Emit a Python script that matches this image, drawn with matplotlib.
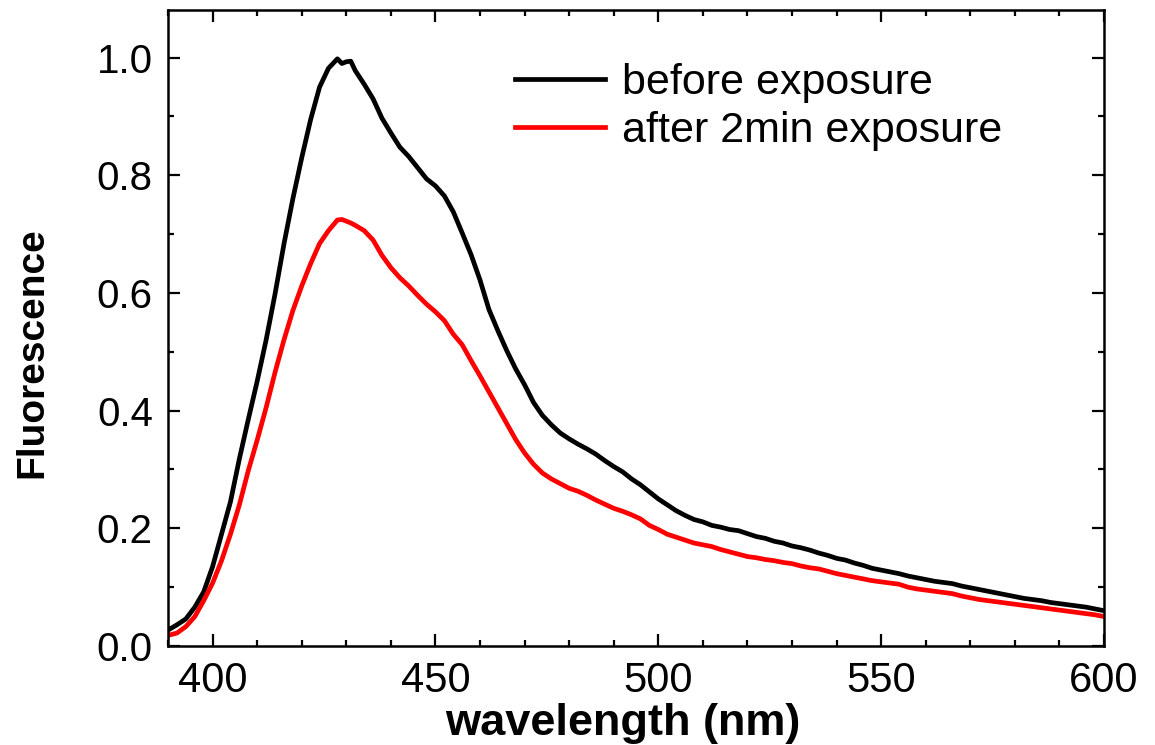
import matplotlib
matplotlib.use("Agg")
import matplotlib.pyplot as plt
from matplotlib.ticker import MultipleLocator

plt.rcParams['font.family'] = ['Liberation Sans', 'DejaVu Sans']

# Emission spectra (wavelength in nm, normalised fluorescence)
wavelength = [390, 392, 394, 396, 398, 400, 402, 404, 406, 408, 410, 412, 414, 416, 418,
              420, 422, 424, 426, 428, 429, 430, 431, 432, 434, 436, 438, 440, 442, 444,
              446, 448, 450, 452, 454, 456, 458, 460, 462, 464, 466, 468, 470, 472, 474,
              476, 478, 480, 482, 484, 486, 488, 490, 492, 494, 496, 498, 500, 502, 504,
              506, 508, 510, 512, 514, 516, 518, 520, 522, 524, 526, 528, 530, 532, 534,
              536, 538, 540, 542, 544, 546, 548, 550, 552, 554, 556, 558, 560, 562, 564,
              566, 568, 570, 572, 574, 576, 578, 580, 582, 584, 586, 588, 590, 592, 594,
              596, 598, 600]

before = [0.027, 0.036, 0.046, 0.066, 0.092, 0.135, 0.190, 0.245, 0.318, 0.385, 0.450,
          0.520, 0.598, 0.683, 0.760, 0.830, 0.895, 0.950, 0.982, 0.998, 0.990, 0.993,
          0.994, 0.978, 0.955, 0.930, 0.897, 0.872, 0.848, 0.832, 0.813, 0.794, 0.782,
          0.765, 0.738, 0.702, 0.665, 0.622, 0.572, 0.536, 0.502, 0.471, 0.444, 0.414,
          0.392, 0.376, 0.362, 0.352, 0.343, 0.335, 0.326, 0.315, 0.305, 0.296, 0.284,
          0.274, 0.262, 0.250, 0.240, 0.230, 0.222, 0.215, 0.211, 0.205, 0.202, 0.198,
          0.196, 0.191, 0.186, 0.183, 0.178, 0.175, 0.170, 0.167, 0.163, 0.158, 0.154,
          0.149, 0.146, 0.141, 0.137, 0.132, 0.129, 0.126, 0.123, 0.119, 0.116, 0.113,
          0.110, 0.108, 0.106, 0.102, 0.099, 0.096, 0.093, 0.090, 0.087, 0.084, 0.081,
          0.079, 0.077, 0.074, 0.072, 0.070, 0.068, 0.066, 0.063, 0.060]

after_2min = [0.018, 0.022, 0.033, 0.050, 0.077, 0.107, 0.145, 0.190, 0.240, 0.298, 0.350,
              0.405, 0.465, 0.520, 0.570, 0.612, 0.650, 0.684, 0.706, 0.724, 0.725, 0.722,
              0.719, 0.715, 0.706, 0.690, 0.664, 0.643, 0.626, 0.612, 0.596, 0.581, 0.568,
              0.553, 0.530, 0.512, 0.485, 0.459, 0.432, 0.405, 0.378, 0.351, 0.328, 0.309,
              0.294, 0.284, 0.276, 0.268, 0.263, 0.256, 0.248, 0.241, 0.234, 0.229, 0.223,
              0.216, 0.205, 0.198, 0.190, 0.185, 0.180, 0.175, 0.172, 0.169, 0.164, 0.160,
              0.156, 0.152, 0.150, 0.147, 0.145, 0.142, 0.140, 0.136, 0.133, 0.131, 0.127,
              0.123, 0.120, 0.117, 0.114, 0.111, 0.109, 0.107, 0.105, 0.100, 0.097, 0.095,
              0.093, 0.091, 0.089, 0.085, 0.082, 0.079, 0.077, 0.075, 0.073, 0.071, 0.069,
              0.067, 0.065, 0.063, 0.061, 0.059, 0.057, 0.055, 0.053, 0.050]

series_labels = ["before exposure", "after 2min exposure"]
x_ticks = [400, 450, 500, 550, 600]
y_ticks = [0.0, 0.2, 0.4, 0.6, 0.8, 1.0]

fig = plt.figure(figsize=(11.55, 7.45), dpi=100)
ax = fig.add_axes([0.1455, 0.1329, 0.8103, 0.8537])

ax.plot(wavelength, before, color="black", lw=3.4, label=series_labels[0])
ax.plot(wavelength, after_2min, color="#ff0000", lw=3.4, label=series_labels[1])

ax.set_xlim(390, 600)
ax.set_ylim(0.0, 1.081)
ax.set_xticks(x_ticks)
ax.set_yticks(y_ticks)
ax.set_yticklabels([f"{v:.1f}" for v in y_ticks])
ax.xaxis.set_minor_locator(MultipleLocator(10))
ax.yaxis.set_minor_locator(MultipleLocator(0.1))

ax.tick_params(which="both", direction="in", top=True, right=True, width=1.6)
ax.tick_params(which="major", length=8.6)
ax.tick_params(which="minor", length=4.3)
ax.tick_params(axis="y", pad=11, labelsize=29)
ax.tick_params(axis="x", pad=10.5, labelsize=30)
for s in ax.spines.values():
    s.set_linewidth(1.8)

ax.set_xlabel("wavelength (nm)", fontsize=32.5, fontweight="bold")
ax.xaxis.set_label_coords(0.486, -0.0896)
ax.set_ylabel("Fluorescence", fontsize=28, fontweight="bold")
ax.yaxis.set_label_coords(-0.126, 0.462)

ax.legend(loc="upper left", bbox_to_anchor=(0.3526, 0.944), frameon=False,
          fontsize=31, handlelength=2.09, handletextpad=0.395, labelspacing=0.2,
          borderaxespad=0.0)

fig.savefig("out.png", dpi=100)
